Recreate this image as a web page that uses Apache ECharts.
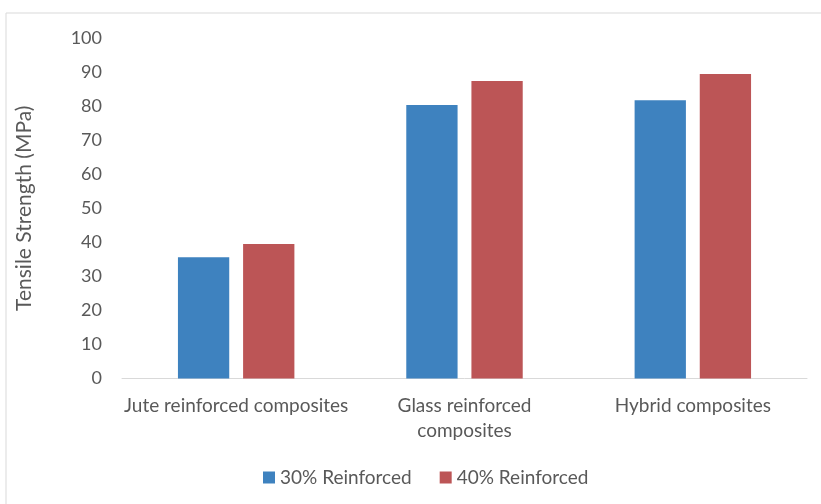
<!DOCTYPE html>
<html>
<head>
<meta charset="utf-8">
<script src="https://cdn.jsdelivr.net/npm/echarts@6/dist/echarts.min.js"></script>
<style>
  html, body { margin: 0; padding: 0; background: #ffffff; }
  #chart { width: 821px; height: 504px; }
</style>
</head>
<body>
<div id="chart"></div>
<script>
// Tensile strength of composites at two reinforcement levels
const categories = ['Jute reinforced composites', 'Glass reinforced\ncomposites', 'Hybrid composites'];
const reinforced30 = [35.6, 80.3, 81.7];
const reinforced40 = [39.5, 87.4, 89.4];
const seriesNames = ['30% Reinforced', '40% Reinforced'];
const yTicks = { min: 0, max: 100, interval: 10 };

const textColor = '#595959';
const fontFamily = 'Lato, "Open Sans", sans-serif';

const chart = echarts.init(document.getElementById('chart'), null, { renderer: 'canvas' });
chart.setOption({
  animation: false,
  backgroundColor: '#ffffff',
  textStyle: { fontFamily: fontFamily },
  graphic: [{
    type: 'rect',
    shape: { x: 6, y: 13, width: 830, height: 510 },
    style: { fill: 'none', stroke: '#d9d9d9', lineWidth: 1 },
    silent: true
  }],
  grid: { left: 122, right: 14, top: 38, bottom: 125.5, containLabel: false },
  legend: {
    data: seriesNames,
    top: 463,
    left: 258,
    itemWidth: 12,
    itemHeight: 12,
    itemGap: 28,
    icon: 'rect',
    textStyle: { color: textColor, fontSize: 19, fontFamily: fontFamily }
  },
  xAxis: {
    type: 'category',
    data: categories,
    axisLine: { show: true, lineStyle: { color: '#d9d9d9', width: 1 } },
    axisTick: { show: false },
    axisLabel: { color: textColor, fontSize: 19, lineHeight: 25, margin: 15, interval: 0, fontFamily: fontFamily }
  },
  yAxis: {
    type: 'value',
    min: yTicks.min,
    max: yTicks.max,
    interval: yTicks.interval,
    name: 'Tensile Strength (MPa)',
    nameLocation: 'middle',
    nameGap: 87,
    nameTextStyle: { color: textColor, fontSize: 21, fontFamily: fontFamily },
    axisLine: { show: false },
    axisTick: { show: false },
    splitLine: { show: false },
    axisLabel: { color: textColor, fontSize: 18, margin: 20, fontFamily: fontFamily }
  },
  series: [
    {
      name: seriesNames[0],
      type: 'bar',
      data: reinforced30,
      barGap: '27%',
      barCategoryGap: '49%',
      itemStyle: { color: '#3E82BF' }
    },
    {
      name: seriesNames[1],
      type: 'bar',
      data: reinforced40,
      barGap: '27%',
      barCategoryGap: '49%',
      itemStyle: { color: '#BC5556' }
    }
  ]
});
</script>
</body>
</html>
